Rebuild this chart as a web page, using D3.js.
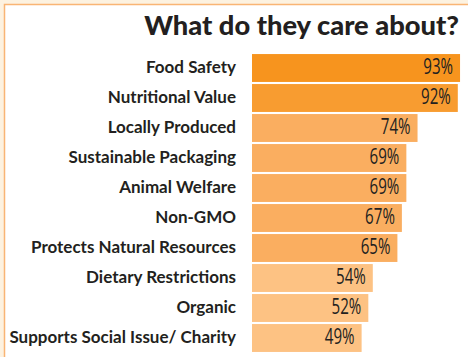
<!DOCTYPE html>
<html>
<head>
<meta charset="utf-8">
<script src="https://cdn.jsdelivr.net/npm/d3@7"></script>
<style>
  html, body { margin: 0; padding: 0; background: #fdf2e0; }
  svg { display: block; }
</style>
</head>
<body>
<div id="chart"></div>
<script>
// Data
var categories = ["Food Safety", "Nutritional Value", "Locally Produced", "Sustainable Packaging",
  "Animal Welfare", "Non-GMO", "Protects Natural Resources", "Dietary Restrictions",
  "Organic", "Supports Social Issue/ Charity"];
var values = [93, 92, 74, 69, 69, 67, 65, 54, 52, 49];
var barColors = ["#f7941e", "#f89c30", "#faae60", "#faae60", "#faae60", "#faae60", "#faae60",
  "#fdc283", "#fdc283", "#fdc283"];

var data = categories.map((c, i) => ({ name: c, value: values[i] }));

var W = 468, H = 357;
var margin = { top: 53, right: 8, bottom: 5, left: 252 };

var svg = d3.select("#chart")
  .append("svg")
  .attr("width", W)
  .attr("height", H);

// Frame: cream surround with thin orange line
svg.append("rect")
  .attr("x", 4.5).attr("y", 4.5)
  .attr("width", W).attr("height", H)
  .attr("fill", "#fff")
  .attr("stroke", "#f9b574")
  .attr("stroke-width", 1.5);

svg.append("text")
  .attr("x", 459)
  .attr("y", 35)
  .attr("text-anchor", "end")
  .style("font-family", "Lato, 'Open Sans', sans-serif")
  .style("font-weight", 900)
  .style("font-size", "27.3px")
  .style("fill", "#231f20")
  .text("What do they care about?");

var x = d3.scaleLinear()
  .domain([0, 100])
  .range([margin.left, margin.left + 223.7]);

var y = d3.scaleBand()
  .domain(categories)
  .range([margin.top, 353])
  .paddingInner(0.07)
  .paddingOuter(0.035);

var color = d3.scaleOrdinal()
  .domain(categories)
  .range(barColors);

svg.selectAll("rect.bar")
  .data(data)
  .enter()
  .append("rect")
  .attr("class", "bar")
  .attr("x", x(0))
  .attr("y", d => y(d.name))
  .attr("width", d => x(d.value) - x(0))
  .attr("height", y.bandwidth())
  .attr("fill", d => color(d.name));

// category labels
svg.selectAll("text.cat")
  .data(data)
  .enter()
  .append("text")
  .attr("class", "cat")
  .attr("x", 236)
  .attr("y", d => y(d.name) + y.bandwidth() / 2 + 4.5)
  .attr("text-anchor", "end")
  .style("font-family", "Lato, 'Open Sans', sans-serif")
  .style("font-weight", 700)
  .style("font-size", "17px")
  .style("fill", "#231f20")
  .text(d => d.name);

// value labels (condensed look)
svg.selectAll("text.val")
  .data(data)
  .enter()
  .append("text")
  .attr("class", "val")
  .attr("transform", d => "translate(" + (x(d.value) - 7) + "," + (y(d.name) + y.bandwidth() / 2 + 6) + ") scale(0.72,1)")
  .attr("text-anchor", "end")
  .style("font-family", "'Open Sans', sans-serif")
  .style("font-size", "21px")
  .style("fill", "#231f20")
  .text(d => d.value + "%");
</script>
</body>
</html>
